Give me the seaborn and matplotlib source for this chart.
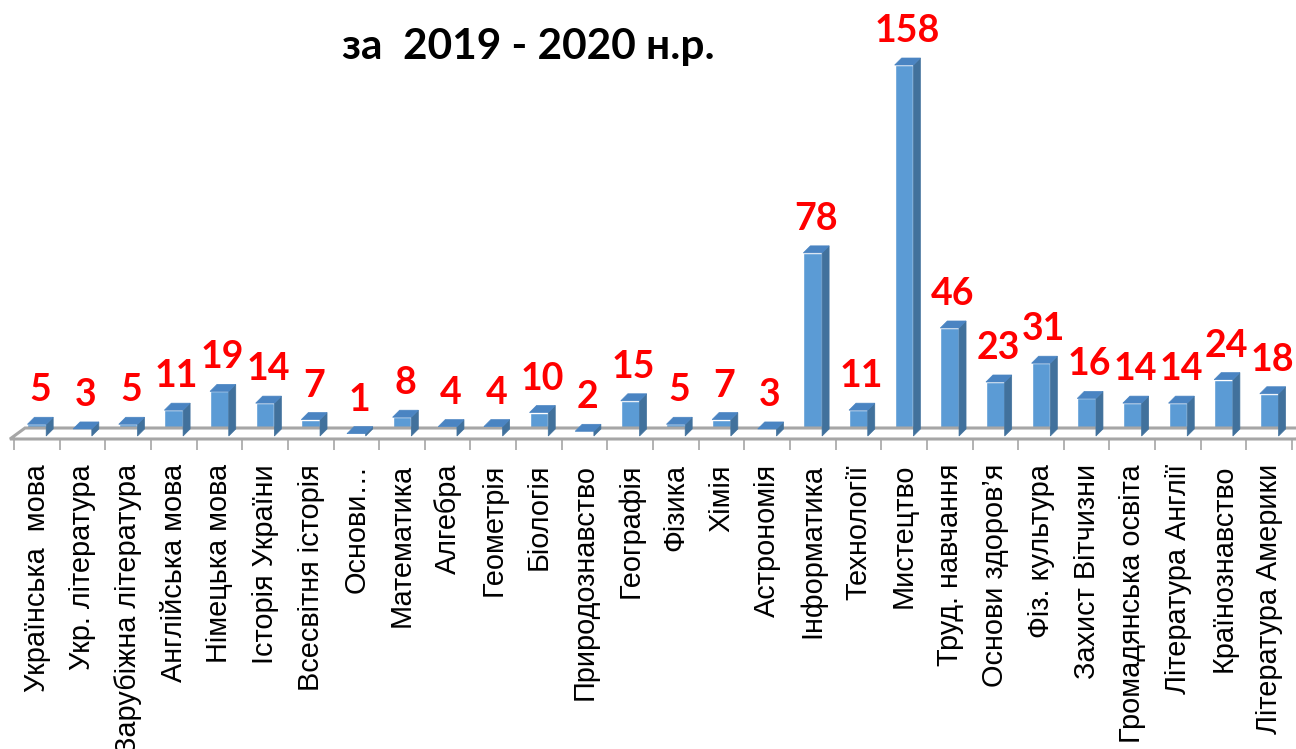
import matplotlib
matplotlib.use("Agg")
import matplotlib.pyplot as plt
from matplotlib.patches import Polygon
from matplotlib.transforms import IdentityTransform
import seaborn as sns
import pandas as pd
import numpy as np

subjects = [
    "Українська  мова", "Укр. література", "Зарубіжна література", "Англійська мова",
    "Німецька мова", "Історія України", "Всесвітня історія", "Основи…",
    "Математика", "Алгебра", "Геометрія", "Біологія", "Природознавство",
    "Географія", "Фізика", "Хімія", "Астрономія", "Інформатика", "Технології",
    "Мистецтво", "Труд. навчання", "Основи здоров’я", "Фіз. культура",
    "Захист Вітчизни", "Громадянська освіта", "Література Англії",
    "Країнознавство", "Література Америки",
]
values = [5, 3, 5, 11, 19, 14, 7, 1, 8, 4, 4, 10, 2, 15, 5, 7, 3, 78, 11, 158,
          46, 23, 31, 16, 14, 14, 24, 18]
title_text = "за  2019 - 2020 н.р."

df = pd.DataFrame({"subject": subjects, "value": values})

sns.set_theme(style="white")
plt.rcParams["font.family"] = ["Liberation Sans", "DejaVu Sans"]

W, H = 1296, 749
fig = plt.figure(figsize=(W / 100, H / 100), dpi=100)
ax_left, ax_right = 14, 1292
ax_bottom_px, ax_top_px = 439, 30
ax = fig.add_axes([ax_left / W, 1 - ax_bottom_px / H,
                   (ax_right - ax_left) / W, (ax_bottom_px - ax_top_px) / H])

front = "#5B9BD5"
side = "#41719C"
top = "#4A84C2"

sns.barplot(data=df, x="subject", y="value", color=front, width=0.41,
            saturation=1, ax=ax, zorder=3)

n = len(subjects)
px_per_unit = 2.348
ax.set_xlim(-0.5, n - 0.5)
ax.set_ylim(-3 / px_per_unit, (436 - ax_top_px) / px_per_unit)

for s in ["left", "right", "top", "bottom"]:
    ax.spines[s].set_visible(False)
ax.set_yticks([])
ax.set_xlabel("")
ax.set_ylabel("")
ax.grid(False)

ax.set_xticks(range(n))
ax.set_xticklabels(subjects, rotation=90, fontsize=20.8, color="black",
                   va="top", ha="center")
ax.tick_params(axis="x", which="major", length=0, pad=18)
ax.set_xticks(np.arange(-0.5, n, 1.0), minor=True)
ax.tick_params(axis="x", which="minor", length=8, width=1.2, color="#A6A6A6",
               direction="out", bottom=True)

fig.canvas.draw()
to_disp = ax.transData.transform

# floor
x0d, y0d = to_disp((-0.5, -3 / px_per_unit))
fx0, fx1 = 10, 1296
fy_front = y0d
fdx, fdy = 15, 11
floor = Polygon([(fx0, fy_front), (fx1, fy_front), (fx1 + fdx, fy_front + fdy),
                 (fx0 + fdx, fy_front + fdy)], closed=True, facecolor="white",
                edgecolor="#A6A6A6", linewidth=2.2, transform=IdentityTransform(),
                zorder=1)
fig.patches.append(floor)
floor.set_figure(fig)

# 3D faces derived from each bar
dx, dy = 7, 7
for p, v in zip(ax.patches, values):
    x, y = p.get_x(), p.get_y()
    w, h = p.get_width(), p.get_height()
    (xl, yb) = to_disp((x, y))
    (xr, yt) = to_disp((x + w, y + h))
    side_poly = Polygon([(xr, yb), (xr + dx, yb + dy), (xr + dx, yt + dy), (xr, yt)],
                        closed=True, facecolor=side, edgecolor=side, linewidth=0.5,
                        transform=IdentityTransform(), zorder=4)
    top_poly = Polygon([(xl, yt), (xr, yt), (xr + dx, yt + dy), (xl + dx, yt + dy)],
                       closed=True, facecolor=top, edgecolor=top, linewidth=0.5,
                       transform=IdentityTransform(), zorder=4)
    fig.patches.append(side_poly)
    side_poly.set_figure(fig)
    fig.patches.append(top_poly)
    top_poly.set_figure(fig)
    ax.annotate(str(v), xy=(x + w / 2, y + h), xytext=(3, 23),
                textcoords="offset pixels", ha="center", va="baseline",
                fontsize=27, fontweight="bold", color="#FF0000",
                family="Lato", annotation_clip=False, zorder=5)

fig.text(528 / W, 1 - 59 / H, title_text, ha="center", va="baseline",
         fontsize=30.5, fontweight="bold", color="black", family="Lato")

fig.savefig("out.png", dpi=100)
